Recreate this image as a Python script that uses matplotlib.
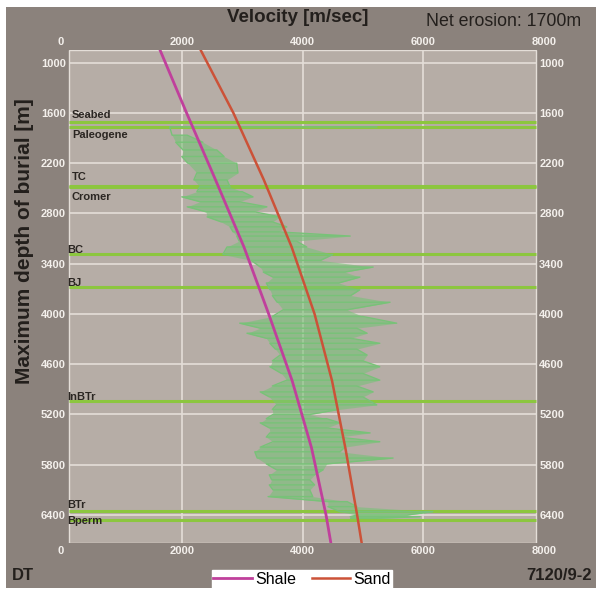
import matplotlib.pyplot as plt
from matplotlib.patches import Rectangle

# compaction trends (depth of burial [m] vs velocity [m/s])
trend_depth = [849, 1600, 2400, 3200, 4000, 4800, 5600, 6400, 6734]
shale_vel = [1640, 2080, 2560, 3030, 3440, 3830, 4150, 4390, 4470]
sand_vel = [2313, 2855, 3360, 3820, 4200, 4490, 4710, 4905, 4980]

# DT log converted to velocity: min / max at each depth
log_depth = [1767, 1866, 1950, 2042, 2120, 2200, 2316, 2400, 2483, 2540,
             2602, 2660, 2721, 2780, 2841, 2900, 2960, 3020, 3070, 3130,
             3200, 3290, 3360, 3440, 3500, 3560, 3630, 3710, 3780, 3860,
             3950, 4030, 4110, 4170, 4230, 4290, 4350, 4420, 4490, 4560,
             4630, 4710, 4790, 4860, 4930, 4990, 5085, 5140, 5200, 5250,
             5300, 5360, 5420, 5470, 5525, 5590, 5645, 5720, 5790, 5860,
             5920, 5980, 6040, 6100, 6180, 6240, 6300, 6360, 6400, 6420,
             6440]
log_lo = [1800, 1840, 1900, 2020, 2000, 2100, 2250, 2200, 2300, 2250,
          2000, 2300, 2090, 2400, 2420, 2650, 2800, 2850, 2910, 2950,
          2750, 2680, 3150, 3300, 3350, 3510, 3400, 3460, 3500, 3580,
          3680, 3500, 2960, 3300, 3080, 3400, 3460, 3550, 3630, 3500,
          3460, 3650, 3740, 3500, 3300, 3450, 3570, 3500, 3510, 3400,
          3300, 3450, 3460, 3400, 3510, 3300, 3210, 3250, 3400, 3570,
          3450, 3490, 3450, 3510, 3430, 4420, 4420, 4620, 4900, 4790,
          4800]
log_hi = [5230, 2090, 2350, 2580, 2700, 2910, 2930, 2750, 2800, 3000,
          3180, 2950, 3410, 3200, 3630, 3500, 3740, 3600, 4790, 3900,
          4070, 4500, 4300, 5170, 4700, 4950, 4600, 4950, 4800, 5450,
          4740, 5000, 5560, 4900, 5070, 4800, 5280, 4900, 5070, 5000,
          5280, 5000, 5280, 4900, 5170, 5000, 5230, 4600, 4120, 4400,
          4620, 4400, 5120, 4600, 5280, 4700, 4620, 5500, 4400, 4340,
          4200, 4120, 4200, 4120, 4170, 4740, 4900, 6160, 5730, 5950,
          5200]

# formation tops
top_names = ['Seabed', 'Paleogene', 'TC', 'Cromer', 'BC', 'BJ', 'InBTr', 'BTr', 'Bperm']
top_depth = [1707, 1767, 2478, 2490, 3282, 3676, 5036, 6348, 6455]

depth_ticks = [1000, 1600, 2200, 2800, 3400, 4000, 4600, 5200, 5800, 6400]
vel_ticks = [0, 2000, 4000, 6000, 8000]

BG = '#8b827c'
PANEL = '#b6ada6'
GRID = '#e4ded8'
TICK_TXT = '#f4f0ec'
TOP_GREEN = '#8cc63f'
LOG_GREEN = '#78c278'
SHALE_C = '#c0409c'
SAND_C = '#cc5238'
DARK = '#231f1c'

plt.rcParams['font.family'] = 'Liberation Sans'

fig = plt.figure(figsize=(5.96, 5.95), dpi=100)
fig.patch.set_facecolor('white')
fig.patches.append(Rectangle((6 / 596, 7 / 595), 590 / 596, 581 / 595,
                             transform=fig.transFigure, facecolor=BG,
                             edgecolor='none', zorder=-10))

ax = fig.add_axes([61 / 596, 1 - 543 / 595, 483 / 596, 493 / 595])
ax.patch.set_visible(False)
for s in ax.spines.values():
    s.set_visible(False)

ylim = (6734, 849)
xpanel = (130, 7870)
ax.set_xlim(0, 8000)
ax.set_ylim(*ylim)

ax.add_patch(Rectangle((xpanel[0], ylim[1]), xpanel[1] - xpanel[0], ylim[0] - ylim[1],
                       facecolor=PANEL, edgecolor=GRID, lw=1, zorder=0))

# grid inside the panel only
ax.hlines(depth_ticks, xpanel[0], xpanel[1], colors=GRID, lw=1.2, zorder=1)
ax.vlines(vel_ticks[1:-1], ylim[1], ylim[0], colors=GRID, lw=1.2, zorder=1)

# formation tops
ax.hlines(top_depth, xpanel[0], xpanel[1], colors=TOP_GREEN, lw=2.2, zorder=2)

# DT log: envelope (first sample is a single spike) plus spiky trace
ax.fill_betweenx(log_depth[1:], log_lo[1:], log_hi[1:], color=LOG_GREEN,
                 alpha=0.6, lw=0, zorder=3)
zx, zy = [], []
for i, (d, lo, hi) in enumerate(zip(log_depth, log_lo, log_hi)):
    # alternate direction so the joins run along the envelope
    zx += [hi, lo] if i % 2 == 0 else [lo, hi]
    zy += [d, d]
ax.plot(zx, zy, color=LOG_GREEN, lw=1.0, zorder=3)

ax.plot(shale_vel, trend_depth, color=SHALE_C, lw=2, zorder=4, label='Shale')
ax.plot(sand_vel, trend_depth, color=SAND_C, lw=1.8, zorder=4, label='Sand')

# formation labels (x in data, y offset in points from the top line)
label_x = [180, 180, 180, 180, 100, 100, 100, 100, 100]
label_dy = [5, -6, 7, -7, 2.5, 3, 2.5, 4, -1]
for name, d, x, dy in zip(top_names, top_depth, label_x, label_dy):
    ax.annotate(name, (x, d), xytext=(0, dy), textcoords='offset points',
                ha='left', va='center', fontsize=8, fontweight='bold',
                color='#2b2622', zorder=5)

ax.set_xticks(vel_ticks)
ax.set_yticks(depth_ticks)
ax.tick_params(axis='x', top=True, labeltop=True, bottom=True, labelbottom=True,
               length=0, labelsize=8, labelcolor=TICK_TXT, pad=2.5)
ax.tick_params(axis='y', left=True, labelleft=True, right=True, labelright=True,
               length=0, labelsize=8, labelcolor=TICK_TXT, pad=-3.5)
for t in ax.xaxis.get_major_ticks() + ax.yaxis.get_major_ticks():
    t.label1.set_fontweight('bold')
    t.label2.set_fontweight('bold')

fig.text(298 / 596, 1 - 17 / 595, 'Velocity [m/sec]', ha='center', va='center',
         fontsize=13.5, fontweight='bold', color=DARK)
fig.text(581 / 596, 1 - 21 / 595, 'Net erosion: 1700m', ha='right', va='center',
         fontsize=12.8, color=DARK)
fig.text(25 / 596, 1 - 241 / 595, 'Maximum depth of burial [m]', rotation=90,
         ha='center', va='center', fontsize=15, fontweight='bold', color=DARK)
fig.text(12 / 596, 1 - 576 / 595, 'DT', ha='left', va='center',
         fontsize=12, fontweight='bold', color=DARK)
fig.text(592 / 596, 1 - 576 / 595, '7120/9-2', ha='right', va='center',
         fontsize=12, fontweight='bold', color=DARK)

leg = fig.legend(loc='center', bbox_to_anchor=(302 / 596, 1 - 579 / 595), ncol=2,
                 fontsize=11.5, frameon=True, fancybox=False, borderpad=0.1,
                 handlelength=2.4, handletextpad=0.2, columnspacing=1.0,
                 borderaxespad=0)
leg.get_frame().set_facecolor('white')
leg.get_frame().set_edgecolor('white')
leg.get_frame().set_alpha(1)

fig.savefig('out.png', dpi=100)
